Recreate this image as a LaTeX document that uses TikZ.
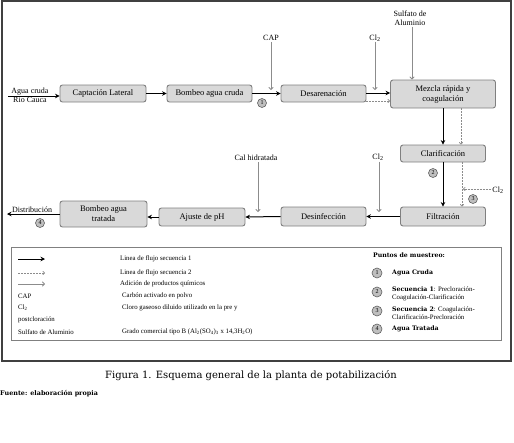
\documentclass[tikz,border=0pt]{standalone}
\usepackage{fontspec}
\setmainfont{Liberation Serif}
\newfontfamily\capfont{DejaVu Serif}
\usetikzlibrary{arrows.meta}
\definecolor{boxfill}{HTML}{D9D9D9}
\definecolor{boxline}{HTML}{808080}
\definecolor{dosegray}{HTML}{8C8C8C}
\definecolor{markfill}{HTML}{BFBFBF}
\definecolor{markline}{HTML}{606060}

\begin{document}
\begin{tikzpicture}[x=1pt,y=-1pt,
    every node/.style={black},
    unit/.style={draw=boxline,fill=boxfill,rounded corners=2.5pt,line width=0.9pt,inner sep=1pt,align=center,font=\fontsize{8.5}{10}\selectfont},
    flow/.style={-{Stealth[length=4.5pt,width=4.5pt]},line width=1pt},
    flowtwo/.style={-{To[length=2.5pt,width=4pt]},dosegray,line width=0.7pt,dash pattern=on 2pt off 1pt},
    dose/.style={-{To[length=3pt,width=5pt]},dosegray,line width=0.9pt},
    chem/.style={inner sep=1pt,font=\fontsize{8}{9}\selectfont,align=center},
    spot/.style={circle,draw=markline,fill=markfill,line width=0.6pt,inner sep=0pt,minimum size=9pt,font=\fontsize{6}{6}\selectfont},
    keytext/.style={anchor=west,inner sep=0pt,font=\fontsize{6.8}{8}\selectfont,align=left},
    keybold/.style={anchor=west,inner sep=0pt,font=\capfont\bfseries\fontsize{6.2}{7.5}\selectfont},
  ]
  \useasboundingbox (0,0) rectangle (514,442);
  \draw[line width=1.3pt,black!75] (2,1) rectangle (511,361);

  % process units
  \node[unit,minimum width=86pt,minimum height=17pt] (capt) at (103,93.5) {Captación Lateral};
  \node[unit,minimum width=85pt,minimum height=17pt] (bombc) at (209.5,93.5) {Bombeo agua cruda};
  \node[unit,minimum width=85pt,minimum height=17pt] (desar) at (323.5,93.5) {Desarenación};
  \node[unit,minimum width=105pt,minimum height=28pt] (mezcla) at (443,94) {Mezcla rápida y\\coagulación};
  \node[unit,minimum width=85pt,minimum height=17pt] (clarif) at (443,153.5) {Clarificación};
  \node[unit,minimum width=85pt,minimum height=19pt] (filtr) at (443,216.5) {Filtración};
  \node[unit,minimum width=85pt,minimum height=19pt] (desinf) at (323.5,216.5) {Desinfección};
  \node[unit,minimum width=86pt,minimum height=18pt] (ajuste) at (202,217) {Ajuste de pH};
  \node[unit,minimum width=87pt,minimum height=26pt] (bombt) at (103.5,214) {Bombeo agua\\tratada};

  % main flow
  \coordinate (src) at (8,96);
  \coordinate (dst) at (7,214);
  \draw[flow] (src) -- (src -| capt.west);
  \node[chem,above] (agua) at (30,96) {Agua cruda};
  \node[chem,below] (rio) at (30,96) {Río Cauca};
  \draw[flow] (capt.east) -- (bombc.west);
  \draw[flow] (bombc.east) -- (desar.west);
  \draw[flow] ([yshift=0.5pt]desar.east) -- ([yshift=0.5pt]desar.east -| mezcla.west);
  \draw[flowtwo] ([yshift=-7.5pt]desar.east) -- ([yshift=-7.5pt]desar.east -| mezcla.west);
  \draw[flow] (mezcla.south) -- (clarif.north);
  \draw[flowtwo] ([xshift=18pt]mezcla.south) -- ([xshift=18pt]clarif.north);
  \draw[flow] (clarif.south) -- (filtr.north);
  \draw[flowtwo] ([xshift=19pt]clarif.south) -- ([xshift=19pt]filtr.north);
  \draw[flow] (filtr.west) -- (desinf.east);
  \draw[flow] (desinf.west) -- (ajuste.east);
  \draw[flow] (ajuste.west) -- (ajuste.west -| bombt.east);
  \draw[flow] (bombt.west) -- (dst);
  \node[chem,above] (distr) at (32,214) {Distribución};

  % chemicals
  \node[chem] (cap) at (271,38) {CAP};
  \coordinate (capin) at (271,90);
  \draw[dose] (cap.south) -- (capin);
  \node[chem] (clpre) at (375,38) {Cl\textsubscript{2}};
  \coordinate (clprein) at (375,90);
  \draw[dose] ([yshift=1pt]clpre.south) -- (clprein);
  \node[chem] (sulf) at (410,18) {Sulfato de\\Aluminio};
  \draw[dose] ([xshift=2pt]sulf.south) -- ([xshift=2pt]sulf.south |- mezcla.north);
  \node[chem] (cal) at (256,158) {Cal hidratada};
  \coordinate (calin) at (258,212);
  \draw[dose] (cal.south -| calin) -- (calin);
  \node[chem] (clpost) at (378,157) {Cl\textsubscript{2}};
  \coordinate (clpostin) at (379,212);
  \draw[dose] (clpost.south -| clpostin) -- (clpostin);
  \node[chem] (clside) at (498,190) {Cl\textsubscript{2}};
  \coordinate (clsidein) at (463,189);
  \draw[flowtwo] (clside.west |- clsidein) -- (clsidein);

  % sampling points
  \node[spot] (p1) at (262,103) {1};
  \node[spot] (p2) at (433,173) {2};
  \node[spot] (p3) at (473,199) {3};
  \node[spot] (p4) at (40,223) {4};

  % legend
  \draw[boxline,line width=0.6pt] (11,247) rectangle (501,340);
  \coordinate (k1a) at (18,259); \coordinate (k1b) at (45,259);
  \coordinate (k2a) at (18,273); \coordinate (k2b) at (45,273);
  \coordinate (k3a) at (18,284); \coordinate (k3b) at (45,284);
  \draw[flow,line width=0.9pt] (k1a) -- (k1b);
  \draw[flowtwo] (k2a) -- (k2b);
  \draw[dose] (k3a) -- (k3b);
  \node[keytext] (t1) at (120,259) {Linea de flujo secuencia 1};
  \node[keytext] (t2) at (120,273) {Linea de flujo secuencia 2};
  \node[keytext] (t3) at (120,284) {Adición de productos químicos};
  \node[keytext] (kcap) at (18,296) {CAP};
  \node[keytext] (tcap) at (122,296) {Carbón activado en polvo};
  \node[keytext] (kcl) at (18,308) {Cl\textsubscript{2}};
  \node[keytext] (tcl) at (122,308) {Cloro gaseoso diluido utilizado en la pre y};
  \node[keytext] (kpost) at (18,320) {postcloración};
  \node[keytext] (ksulf) at (18,332) {Sulfato de Aluminio};
  \node[keytext] (tsulf) at (122,332) {Grado comercial tipo B (Al\textsubscript{2}(SO\textsubscript{4})\textsubscript{3} x 14,3H\textsubscript{2}O)};

  \node[keybold] (ptitle) at (373,255) {Puntos de muestreo:};
  \node[spot,minimum size=10pt] (m1) at (377,273) {1};
  \node[spot,minimum size=10pt] (m2) at (377,292) {2};
  \node[spot,minimum size=10pt] (m3) at (377,311) {3};
  \node[spot,minimum size=10pt] (m4) at (377,329) {4};
  \node[keybold] (s1) at (392,273) {Agua Cruda};
  \node[keytext] (s2) at (392,294) {{\capfont\bfseries\fontsize{6.2}{7.5}\selectfont Secuencia 1}: Precloración-\\Coagulación-Clarificación};
  \node[keytext] (s3) at (392,313) {{\capfont\bfseries\fontsize{6.2}{7.5}\selectfont Secuencia 2}: Coagulación-\\Clarificación-Precloración};
  \node[keybold] (s4) at (392,329) {Agua Tratada};

  % caption
  \node[font=\capfont\fontsize{10}{12}\selectfont] (fig) at (251,376) {Figura 1. Esquema general de la planta de potabilización};
  \node[anchor=west,inner sep=0pt,font=\capfont\bfseries\fontsize{6.4}{8}\selectfont] (src) at (0,394) {Fuente: elaboración propia};
\end{tikzpicture}
\end{document}
